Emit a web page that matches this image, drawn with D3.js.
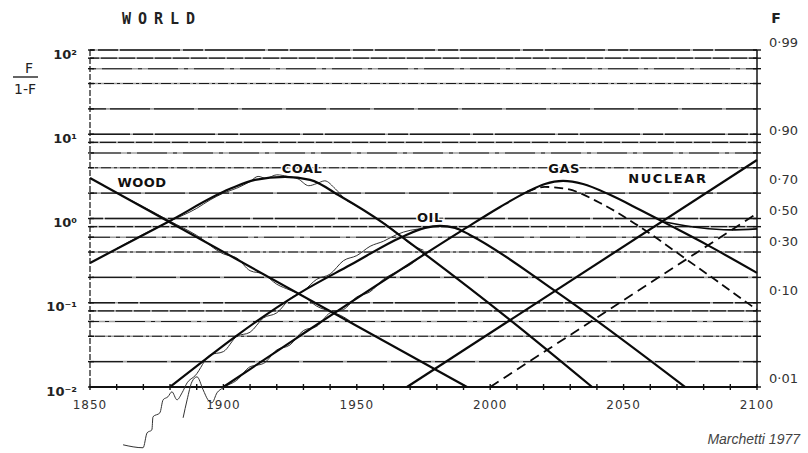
<!DOCTYPE html>
<html><head><meta charset="utf-8">
<script src="https://cdn.jsdelivr.net/npm/d3@7"></script>
<style>body{margin:0;background:#fff}svg{display:block}</style>
</head><body>
<svg id="c" width="808" height="453"></svg>
<script>
// ---------- data ----------
const gridValues = [0.01,0.02,0.04,0.06,0.08,0.1,0.2,0.4,0.6,0.8,1,2,4,6,8,10,20,40,60,80,100];
const leftTicks = [100,10,1,0.1,0.01];
const leftTickLabels = ["10²","10¹","10⁰","10⁻¹","10⁻²"];
const yearTicks = [1850,1900,1950,2000,2050,2100];
const minorYears = [1850,1860,1870,1880,1890,1900,1910,1920,1930,1940,1950,1960,1970,1980,1990,2000,2010,2020,2030,2040,2050,2060,2070,2080,2090,2100];
const fTicks = [0.99,0.90,0.70,0.50,0.30,0.10,0.01];
const fTickLabels = ["0·99","0·90","0·70","0·50","0·30","0·10","0·01"];

// model curves: [year, F/(1-F)]
const wood = [[1850,3.03],[1991.3,0.01]];
const coal = [[1850,0.297],[1879.2,0.91],[1902.5,2.25],[1911.8,2.87],[1923.1,3.12],[1932.5,2.87],[1943.7,1.85],[1959.8,0.887],[1966.9,0.605],[2007.4,0.0627],[2038.2,0.01]];
const oil = [[1880,0.01],[1928.7,0.131],[1947.5,0.28],[1966.9,0.605],[1975.6,0.775],[1981.2,0.817],[1986.8,0.775],[1992.4,0.638],[2024.3,0.138],[2073,0.01]];
const gas = [[1900,0.01],[1928.7,0.0405],[1989.8,0.733],[2003.7,1.37],[2013.8,2.07],[2020.5,2.57],[2027.3,2.79],[2034.8,2.57],[2044.9,1.91],[2056.1,1.27],[2066.3,0.863],[2081.3,0.486],[2100,0.226]];
const gasAlt = [[2013.8,2.07],[2020.5,2.37],[2028.8,2.24],[2041.2,1.53],[2055,0.84],[2073.8,0.323],[2100,0.0824]];
const nuclear = [[1968.8,0.01],[2100,4.95]];
const newSource = [[2000,0.01],[2100,1.15]];
const nuclearSat = [[2065.5,0.91],[2078.6,0.775],[2089.9,0.733],[2100,0.753]];

// historical data
const woodData = [[1860,2.0],[1870,1.38],[1880,0.93],[1890,0.63],[1900,0.38],[1905,0.34],[1910,0.24],[1915,0.219],[1920,0.166],[1925,0.141],[1930,0.12],[1935,0.091],[1940,0.079],[1945,0.068],[1950,0.0525]];
const coalData = [[1860,0.44],[1870,0.65],[1880,0.93],[1890,1.32],[1895,1.66],[1900,2.0],[1905,2.29],[1910,2.75],[1913,3.16],[1916,3.0],[1920,3.3],[1924,3.16],[1928,2.95],[1932,2.45],[1935,2.6],[1938,2.8],[1942,2.24],[1946,1.66],[1950,1.41],[1955,1.12],[1960,0.89],[1965,0.68],[1970,0.5],[1975,0.42]];
const oilData = [[1862.4,0.00206],[1869.9,0.0019],[1871.4,0.00286],[1873.2,0.0031],[1873.6,0.00443],[1876.2,0.00494],[1877.4,0.00705],[1879.2,0.00765],[1880.7,0.00877],[1882.6,0.00705],[1884.5,0.00853],[1886.4,0.0112],[1889.4,0.0136],[1895,0.024],[1900,0.0263],[1905,0.0398],[1910,0.0447],[1915,0.066],[1920,0.0759],[1925,0.112],[1930,0.138],[1935,0.19],[1940,0.219],[1945,0.316],[1950,0.363],[1955,0.468],[1960,0.537],[1965,0.646],[1970,0.724],[1975,0.759]];
const gasData = [[1884.9,0.00431],[1886.4,0.00705],[1888.2,0.0115],[1890.1,0.0132],[1892.4,0.00927],[1894.2,0.00705],[1895.7,0.0065],[1897.6,0.00853],[1899.9,0.0098],[1905,0.012],[1910,0.0174],[1915,0.019],[1920,0.0275],[1925,0.0316],[1930,0.0468],[1935,0.0525],[1940,0.0759],[1945,0.083],[1950,0.117],[1955,0.135],[1960,0.19],[1965,0.234],[1970,0.282],[1975,0.38]];

const curveLabels = [
  {text:"WOOD", year:1869.5, value:2.64},
  {text:"COAL", year:1929.5, value:3.87},
  {text:"OIL", year:1977.4, value:1.02},
  {text:"GAS", year:2027.7, value:3.87},
  {text:"NUCLEAR", year:2066.6, value:2.95}
];

// ---------- drawing ----------
const svg = d3.select("#c");
const x = d3.scaleLinear().domain([1850,2100]).range([90,757]);
const y = d3.scaleLog().domain([0.01,100]).range([387,50]);

// gridlines
const dashes = ["22,3,5,3","40,4","10,3,3,3","30,6,4,6","16,2"];
const gGrid = svg.append("g");
gridValues.forEach((v,i)=>{
  gGrid.append("line").attr("x1",x(1850)).attr("x2",x(2100)).attr("y1",y(v)).attr("y2",y(v))
    .attr("stroke","#a0a0a0").attr("stroke-width",1.6);
  const major = [0.01,0.1,1,10,100].includes(v);
  gGrid.append("line").attr("x1",x(1850)).attr("x2",x(2100)).attr("y1",y(v)).attr("y2",y(v))
    .attr("stroke","#1a1a1a").attr("stroke-width",major?1.3:1.1)
    .attr("stroke-dasharray", major ? "60,3,20,2" : dashes[i%dashes.length])
    .attr("stroke-dashoffset", i*7);
});

// axes
svg.append("line").attr("x1",x(1850)).attr("x2",x(1850)).attr("y1",y(100)).attr("y2",y(0.01))
  .attr("stroke","#222").attr("stroke-width",1.3).attr("stroke-dasharray","6,2");
svg.append("line").attr("x1",x(2100)).attr("x2",x(2100)).attr("y1",y(100)).attr("y2",y(0.01))
  .attr("stroke","#222").attr("stroke-width",1.6);
svg.append("line").attr("x1",x(1850)).attr("x2",x(2100)).attr("y1",y(0.01)).attr("y2",y(0.01))
  .attr("stroke","#111").attr("stroke-width",1.8);
gridValues.forEach(v=>{
  svg.append("line").attr("x1",x(1850)-2).attr("x2",x(1850)+4).attr("y1",y(v)).attr("y2",y(v)).attr("stroke","#111").attr("stroke-width",1.4);
  svg.append("line").attr("x1",x(2100)-4).attr("x2",x(2100)+4).attr("y1",y(v)).attr("y2",y(v)).attr("stroke","#111").attr("stroke-width",1.4);
});
minorYears.forEach(yr=>{
  svg.append("line").attr("x1",x(yr)).attr("x2",x(yr)).attr("y1",y(0.01)-3).attr("y2",y(0.01)+3).attr("stroke","#111").attr("stroke-width",1.4);
});

// tick labels
leftTicks.forEach((v,i)=>{
  svg.append("text").attr("x",77).attr("y",y(v)+4).attr("text-anchor","end").attr("dominant-baseline","central")
    .attr("font-family","DejaVu Sans").attr("font-size",13).attr("font-weight","bold").attr("fill","#222")
    .text(leftTickLabels[i]);
});
yearTicks.forEach(yr=>{
  svg.append("text").attr("x",x(yr)).attr("y",405).attr("text-anchor","middle").attr("dominant-baseline","central")
    .attr("font-family","DejaVu Sans").attr("font-size",12).attr("letter-spacing",1).attr("fill","#333")
    .text(yr);
});
fTicks.forEach((f,i)=>{
  svg.append("text").attr("x",769).attr("y",y(f/(1-f))-8).attr("dominant-baseline","central")
    .attr("font-family","DejaVu Sans").attr("font-size",13).attr("fill","#333")
    .text(fTickLabels[i]);
});

// titles
svg.append("text").attr("x",122).attr("y",19).attr("dominant-baseline","central")
  .attr("font-family","DejaVu Sans Mono").attr("font-weight","bold").attr("font-size",15).attr("letter-spacing",7).attr("fill","#222")
  .text("WORLD");
svg.append("text").attr("x",29).attr("y",68).attr("text-anchor","middle").attr("dominant-baseline","central")
  .attr("font-family","DejaVu Sans").attr("font-size",14).attr("fill","#222").text("F");
svg.append("line").attr("x1",13).attr("x2",38).attr("y1",77).attr("y2",77).attr("stroke","#222").attr("stroke-width",1.4);
svg.append("text").attr("x",25).attr("y",89).attr("text-anchor","middle").attr("dominant-baseline","central")
  .attr("font-family","DejaVu Sans").attr("font-size",14).attr("fill","#222").text("1-F");
svg.append("text").attr("x",776).attr("y",18).attr("text-anchor","middle").attr("dominant-baseline","central")
  .attr("font-family","DejaVu Sans").attr("font-weight","bold").attr("font-size",14).attr("fill","#222").text("F");
svg.append("text").attr("x",800).attr("y",444).attr("text-anchor","end")
  .attr("font-family","Liberation Sans").attr("font-style","italic").attr("font-size",14).attr("fill","#444")
  .text("Marchetti 1977");

// curves
const line = d3.line().x(d=>x(d[0])).y(d=>y(d[1])).curve(d3.curveMonotoneX);
function path(data, w, dash, color){
  svg.append("path").attr("d",line(data)).attr("fill","none").attr("stroke",color||"#0a0a0a")
    .attr("stroke-width",w).attr("stroke-dasharray",dash||null).attr("stroke-linejoin","round");
}
[woodData, coalData, oilData, gasData].forEach(d=>path(d,1,null,"#333"));
[wood, coal, oil, gas, nuclear].forEach(d=>path(d,2.2));
path(gasAlt,1.8,"9,5");
path(newSource,1.8,"10,6");
path(nuclearSat,1.6);

// curve labels
curveLabels.forEach(l=>{
  svg.append("text").attr("x",x(l.year)).attr("y",y(l.value)).attr("text-anchor","middle").attr("dominant-baseline","central")
    .attr("font-family","DejaVu Sans").attr("font-weight","bold").attr("font-size",13).attr("letter-spacing",l.text.length>4?1.6:0.5)
    .attr("fill","#111").attr("stroke","#fff").attr("stroke-width",3).attr("paint-order","stroke")
    .text(l.text);
});
</script>
</body></html>
